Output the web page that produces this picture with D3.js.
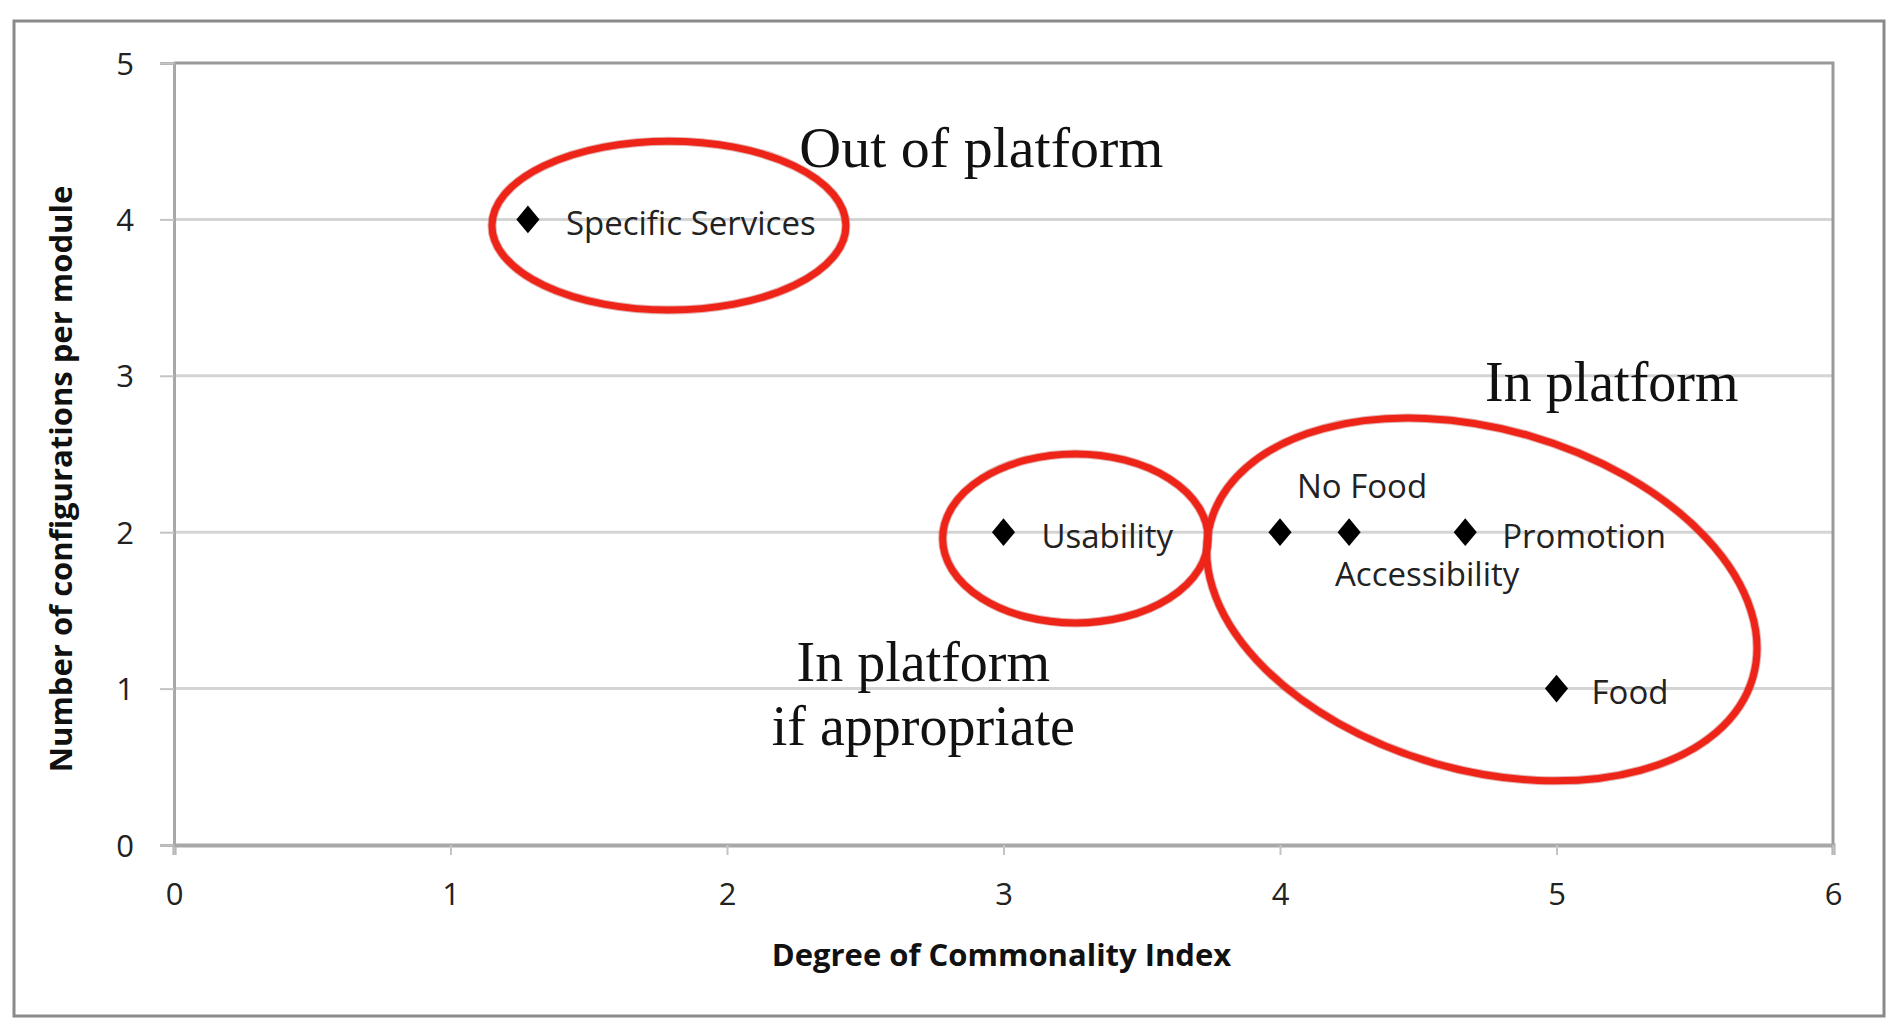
<!DOCTYPE html>
<html>
<head>
<meta charset="utf-8">
<script src="https://cdn.jsdelivr.net/npm/d3@7"></script>
<style>
  body { margin: 0; background: #fff; }
  svg { display: block; }
</style>
</head>
<body>
<div id="chart"></div>
<script>
// data
const pointNames = ['Specific Services', 'Usability', 'No Food', 'Accessibility', 'Promotion', 'Food'];
const commonality = [1.28, 3.0, 4.0, 4.25, 4.67, 5.0];
const configurations = [4, 2, 2, 2, 2, 1];

const xTicks = [0, 1, 2, 3, 4, 5, 6];
const yTicks = [0, 1, 2, 3, 4, 5];

// red rings drawn over the chart (data units)
const ringCx = [1.79, 3.26, 4.73];
const ringCy = [3.96, 1.96, 1.57];
const ringRx = [0.64, 0.48, 1.02];
const ringRy = [0.54, 0.54, 1.09];
const ringTilt = [0, 0, 16];

// handwritten-ish notes
const noteText = ['Out of platform', 'In platform', 'In platform', 'if appropriate'];
const noteX = [2.92, 5.20, 2.71, 2.71];
const noteY = [4.46, 2.96, 1.17, 0.76];

const width = 1903, height = 1034;
const plot = { left: 174, right: 1833, top: 63, bottom: 845 };

// where each point label sits, relative to its marker
const labelPlace = {
  'Specific Services': { dx: 38, dy: 3, anchor: 'start' },
  'Usability': { dx: 38, dy: 3, anchor: 'start' },
  'No Food': { dx: 82, dy: -47, anchor: 'middle' },
  'Accessibility': { dx: 78, dy: 41, anchor: 'middle' },
  'Promotion': { dx: 37, dy: 3, anchor: 'start' },
  'Food': { dx: 35, dy: 3, anchor: 'start' }
};

const points = pointNames.map((name, i) => ({ name: name, x: commonality[i], y: configurations[i] }));

const svg = d3.select('#chart')
  .append('svg')
    .attr('width', width)
    .attr('height', height);

// outer frame
svg.append('rect')
  .attr('x', 14).attr('y', 21)
  .attr('width', 1870).attr('height', 995)
  .attr('fill', '#fff')
  .attr('stroke', '#8a8a8a')
  .attr('stroke-width', 3);

const x = d3.scaleLinear().domain([0, 6]).range([plot.left, plot.right]);
const y = d3.scaleLinear().domain([0, 5]).range([plot.bottom, plot.top]);

// gridlines
svg.append('g')
  .selectAll('line')
  .data(yTicks.filter(d => d > 0 && d < 5))
  .enter()
  .append('line')
    .attr('x1', plot.left).attr('x2', plot.right)
    .attr('y1', d => y(d)).attr('y2', d => y(d))
    .attr('stroke', '#d4d4d4')
    .attr('stroke-width', 3);

// plot border (top + right)
svg.append('path')
  .attr('d', 'M' + plot.left + ',' + y(5) + 'H' + x(6) + 'V' + y(0))
  .attr('fill', 'none')
  .attr('stroke', '#9a9a9a')
  .attr('stroke-width', 3);

// axes
const xAxis = svg.append('g')
  .attr('transform', 'translate(0,' + plot.bottom + ')')
  .call(d3.axisBottom(x).tickValues(xTicks).tickFormat(d3.format('d')).tickSize(10).tickPadding(28));

const yAxis = svg.append('g')
  .attr('transform', 'translate(' + plot.left + ',0)')
  .call(d3.axisLeft(y).tickValues(yTicks).tickFormat(d3.format('d')).tickSize(14).tickPadding(26));

xAxis.select('.domain').attr('stroke', '#a8a8a8').attr('stroke-width', 4);
yAxis.select('.domain').attr('stroke', '#a8a8a8').attr('stroke-width', 3);
[xAxis, yAxis].forEach(a => {
  a.selectAll('.tick line').attr('stroke', '#c4c4c4').attr('stroke-width', 2);
  a.selectAll('.tick text')
    .attr('fill', '#222')
    .style('font-family', '"Open Sans", sans-serif')
    .style('font-size', '31px');
});
yAxis.selectAll('.tick text').attr('dy', '0.36em');

// axis titles
svg.append('text')
  .attr('x', (plot.left + plot.right) / 2 - 2)
  .attr('y', 954)
  .attr('text-anchor', 'middle')
  .attr('dominant-baseline', 'central')
  .attr('fill', '#111')
  .style('font-family', '"Open Sans", sans-serif')
  .style('font-weight', 'bold')
  .style('font-size', '31px')
  .text('Degree of Commonality Index');

svg.append('text')
  .attr('transform', 'translate(60,' + 479 + ') rotate(-90)')
  .attr('text-anchor', 'middle')
  .attr('dominant-baseline', 'central')
  .attr('fill', '#111')
  .style('font-family', '"Open Sans", sans-serif')
  .style('font-weight', 'bold')
  .style('font-size', '31px')
  .text('Number of configurations per module');

// markers
const diamond = d3.symbol().type(d3.symbolDiamond2).size(340);
svg.append('g')
  .selectAll('path')
  .data(points)
  .enter()
  .append('path')
    .attr('d', diamond)
    .attr('transform', d => 'translate(' + x(d.x) + ',' + y(d.y) + ') scale(1,1.2)')
    .attr('fill', '#000');

// point labels
svg.append('g')
  .selectAll('text')
  .data(points)
  .enter()
  .append('text')
    .attr('x', d => x(d.x) + labelPlace[d.name].dx)
    .attr('y', d => y(d.y) + labelPlace[d.name].dy)
    .attr('text-anchor', d => labelPlace[d.name].anchor)
    .attr('dominant-baseline', 'central')
    .attr('fill', '#222')
    .style('font-family', '"Open Sans", sans-serif')
    .style('font-size', '33px')
    .text(d => d.name);

// red rings, with a faint darker edge underneath
const rings = ringCx.map((cx, i) => ({ cx: cx, cy: ringCy[i], rx: ringRx[i], ry: ringRy[i], tilt: ringTilt[i] }));
[['#b0201a', 9, 0.35], ['#ee2418', 7, 1]].forEach(st => {
  svg.append('g')
    .selectAll('ellipse')
    .data(rings)
    .enter()
    .append('ellipse')
      .attr('transform', d => 'translate(' + x(d.cx) + ',' + y(d.cy) + ') rotate(' + d.tilt + ')')
      .attr('rx', d => x(d.rx) - x(0))
      .attr('ry', d => y(0) - y(d.ry))
      .attr('fill', 'none')
      .attr('stroke', st[0])
      .attr('stroke-opacity', st[2])
      .attr('stroke-width', st[1]);
});

// notes
svg.append('g')
  .selectAll('text')
  .data(noteText)
  .enter()
  .append('text')
    .attr('x', (d, i) => x(noteX[i]))
    .attr('y', (d, i) => y(noteY[i]))
    .attr('text-anchor', 'middle')
    .attr('dominant-baseline', 'central')
    .attr('fill', '#111')
    .style('font-family', '"Liberation Serif", "Times New Roman", serif')
    .style('font-size', (d, i) => (i === 0 ? '58px' : '56px'))
    .text(d => d);
</script>
</body>
</html>
